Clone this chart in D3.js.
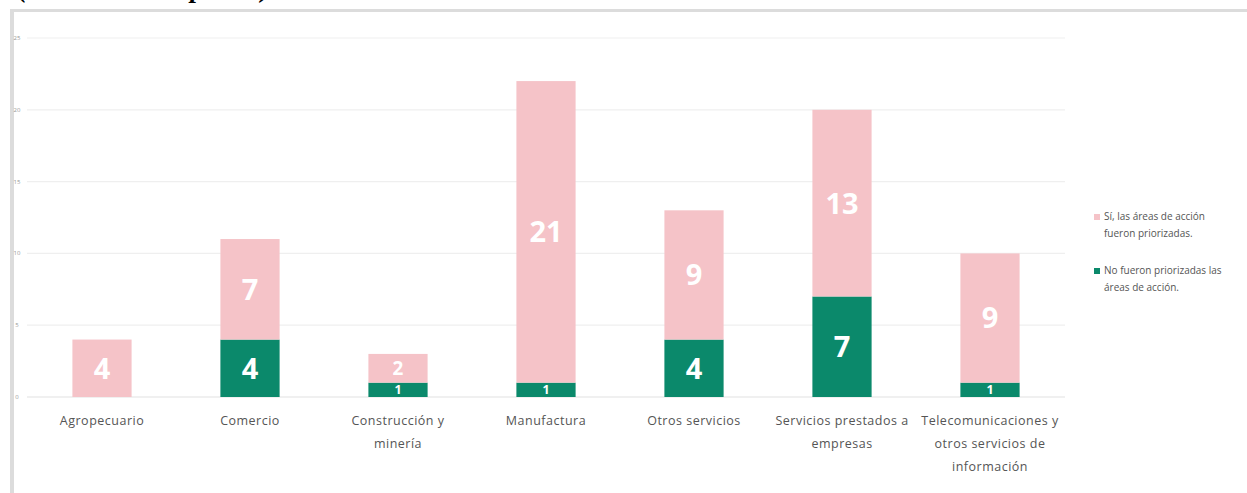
<!DOCTYPE html>
<html>
<head>
<meta charset="utf-8">
<script src="https://cdn.jsdelivr.net/npm/d3@7"></script>
<style>
    body { margin: 0; background: #fff; }
    svg { display: block; }
</style>
</head>
<body>
<svg id="chart" width="1247" height="493"></svg>
<script>

let categories = [
    ["Agropecuario"],
    ["Comercio"],
    ["Construcción y", "minería"],
    ["Manufactura"],
    ["Otros servicios"],
    ["Servicios prestados a", "empresas"],
    ["Telecomunicaciones y", "otros servicios de", "información"]
]
let no_values = [0, 4, 1, 1, 4, 7, 1]
let si_values = [4, 7, 2, 21, 9, 13, 9]
let y_ticks = [0, 5, 10, 15, 20, 25]
let series_names = [
    ["Sí, las áreas de acción", "fueron priorizadas."],
    ["No fueron priorizadas las", "áreas de acción."]
]

let colors = { si: "#f5c3c8", no: "#0b896b" }
let font = "'Open Sans', 'Noto Sans', sans-serif"

let svg = d3.select('#chart')

// caption above the frame, mostly cropped like in the source image
svg.append('text')
    .attr('x', 18).attr('y', -3)
    .attr('font-family', "'Liberation Serif', serif")
    .attr('font-style', 'italic').attr('font-weight', 'bold')
    .attr('font-size', 27)
    .text("(Número de empresas)")

// frame
svg.append('rect').attr('x', 10).attr('y', 9).attr('width', 1240).attr('height', 3).attr('fill', '#dcdcdc')
svg.append('rect').attr('x', 10).attr('y', 9).attr('width', 4).attr('height', 490).attr('fill', '#dcdcdc')

let x = d3.scaleBand()
    .domain(categories.map((d, i) => i))
    .range([27, 1063])
    .paddingInner(0.6)
    .paddingOuter(0.3)

let y = d3.scaleLinear().domain([0, 25]).range([397, 38])

// grid
svg.append('g').selectAll('line')
    .data(y_ticks)
    .join('line')
    .attr('x1', 27).attr('x2', 1065)
    .attr('y1', (d) => y(d)).attr('y2', (d) => y(d))
    .attr('stroke', (d) => d == 0 ? '#e2e2e2' : '#efefef')
    .attr('stroke-width', 1.2)

svg.append('g').selectAll('text')
    .data(y_ticks)
    .join('text')
    .attr('x', 17).attr('y', (d) => y(d) + 2)
    .attr('text-anchor', 'middle')
    .attr('font-family', font).attr('font-size', 6)
    .attr('fill', '#999')
    .text((d) => d)

// stacked segments
let segments = []
for (let i = 0; i < categories.length; i++) {
    segments.push({ i: i, y0: 0, y1: no_values[i], v: no_values[i], color: colors.no })
    segments.push({ i: i, y0: no_values[i], y1: no_values[i] + si_values[i], v: si_values[i], color: colors.si })
}
segments = segments.filter((d) => d.v > 0)

svg.append('g').selectAll('rect')
    .data(segments)
    .join('rect')
    .attr('x', (d) => x(d.i) + 1)
    .attr('width', x.bandwidth())
    .attr('y', (d) => y(d.y1))
    .attr('height', (d) => y(d.y0) - y(d.y1))
    .attr('fill', (d) => d.color)

svg.append('g').selectAll('text')
    .data(segments)
    .join('text')
    .each(function (d) {
        let h = y(d.y0) - y(d.y1)
        let fs = Math.min(29, 6 + h * 0.45)
        d3.select(this)
            .attr('x', x(d.i) + 1 + x.bandwidth() / 2)
            .attr('y', (y(d.y0) + y(d.y1)) / 2 + fs * 0.36)
            .attr('font-size', fs)
    })
    .attr('text-anchor', 'middle')
    .attr('font-family', font).attr('font-weight', 'bold')
    .attr('fill', '#fff')
    .text((d) => d.v)

// category labels
svg.append('g').selectAll('text')
    .data(categories)
    .join('text')
    .attr('text-anchor', 'middle')
    .attr('font-family', font).attr('font-size', 12.5)
    .attr('letter-spacing', 0.5)
    .attr('fill', '#555')
    .attr('transform', (d, i) => `translate(${x(i) + 1 + x.bandwidth() / 2},425)`)
    .selectAll('tspan')
    .data((d) => d)
    .join('tspan')
    .attr('x', 0)
    .attr('dy', (d, j) => j == 0 ? 0 : 23)
    .text((d) => d)

// legend
let legend = svg.append('g').selectAll('g')
    .data(series_names)
    .join('g')
    .attr('transform', (d, i) => `translate(1094,${220 + i * 54})`)

legend.append('rect')
    .attr('width', 6).attr('height', 6).attr('y', -6)
    .attr('fill', (d, i) => i == 0 ? colors.si : colors.no)

legend.append('text')
    .attr('font-family', font).attr('font-size', 10)
    .attr('fill', '#555')
    .selectAll('tspan')
    .data((d) => d)
    .join('tspan')
    .attr('x', 10)
    .attr('dy', (d, j) => j == 0 ? 0 : 17)
    .text((d) => d)

</script>
</body>
</html>
